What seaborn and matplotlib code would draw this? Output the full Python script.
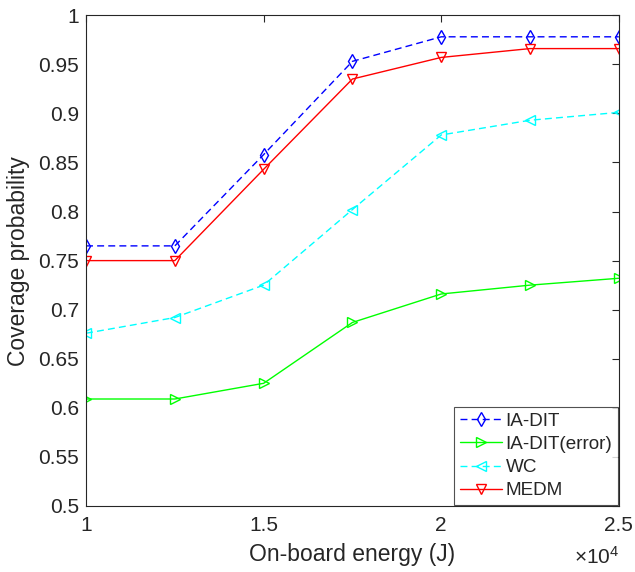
import matplotlib
matplotlib.use("Agg")
import matplotlib.pyplot as plt
import seaborn as sns

# --- Data ---
energy = [10000, 12500, 15000, 17500, 20000, 22500, 25000]
ia_dit = [0.765, 0.765, 0.858, 0.953, 0.978, 0.978, 0.978]
ia_dit_error = [0.609, 0.609, 0.625, 0.687, 0.716, 0.725, 0.732]
wc = [0.676, 0.692, 0.725, 0.802, 0.878, 0.893, 0.901]
medm = [0.750, 0.750, 0.843, 0.935, 0.957, 0.966, 0.966]

x_ticks = [10000, 15000, 20000, 25000]
x_ticklabels = ["1", "1.5", "2", "2.5"]
y_ticks = [0.5, 0.55, 0.6, 0.65, 0.7, 0.75, 0.8, 0.85, 0.9, 0.95, 1.0]
y_ticklabels = ["0.5", "0.55", "0.6", "0.65", "0.7", "0.75", "0.8", "0.85", "0.9", "0.95", "1"]

series = [
    ("IA-DIT", ia_dit, "#0000ff", (5, 3), "d", 7.5),
    ("IA-DIT(error)", ia_dit_error, "#00ff00", "", ">", 6.5),
    ("WC", wc, "#00ffff", (5, 3), "<", 6.5),
    ("MEDM", medm, "#ff0000", "", "v", 6.5),
]

sns.set_style("white")
plt.rcParams['font.family'] = ['Liberation Sans', 'DejaVu Sans']
plt.rcParams['mathtext.fontset'] = 'custom'
plt.rcParams['mathtext.rm'] = 'Liberation Sans'

fig = plt.figure(figsize=(6.35, 5.72), dpi=100)
ax = fig.add_axes([0.1355, 0.1154, 0.839, 0.858])

for name, vals, color, dash, mk, ms in series:
    line = sns.lineplot(x=energy, y=vals, ax=ax, color=color, linewidth=1,
                        marker=mk, markersize=ms, markerfacecolor="none",
                        markeredgecolor=color, markeredgewidth=1, label=name).lines[-1]
    if dash:
        line.set_dashes(dash)

ax.set_xlim(10000, 25000)
ax.set_ylim(0.5, 1.0)
ax.set_xticks(x_ticks)
ax.set_xticklabels(x_ticklabels)
ax.set_yticks(y_ticks)
ax.set_yticklabels(y_ticklabels)

ax.tick_params(direction="in", top=True, right=True, length=5, width=0.8,
               labelsize=15, colors="#262626")
ax.tick_params(axis="x", pad=7)
ax.tick_params(axis="y", pad=5)
for sp in ax.spines.values():
    sp.set_color("#262626")
    sp.set_linewidth(0.8)

ax.set_xlabel("On-board energy (J)", fontsize=16.5, color="#262626", labelpad=6)
ax.set_ylabel("Coverage probability", fontsize=16.5, color="#262626", labelpad=6)

fig.text(0.976, 0.008, r"$\times\mathregular{10^{4}}$", ha="right", va="bottom",
         fontsize=15, color="#262626")

leg = ax.legend(loc="lower right", fontsize=13.6, frameon=True, fancybox=False,
                edgecolor="#262626", borderaxespad=0.05, handlelength=2.2,
                borderpad=0.3, labelspacing=0.32, handletextpad=0.2)
leg.get_frame().set_linewidth(0.8)

fig.savefig("out.png", dpi=100)
